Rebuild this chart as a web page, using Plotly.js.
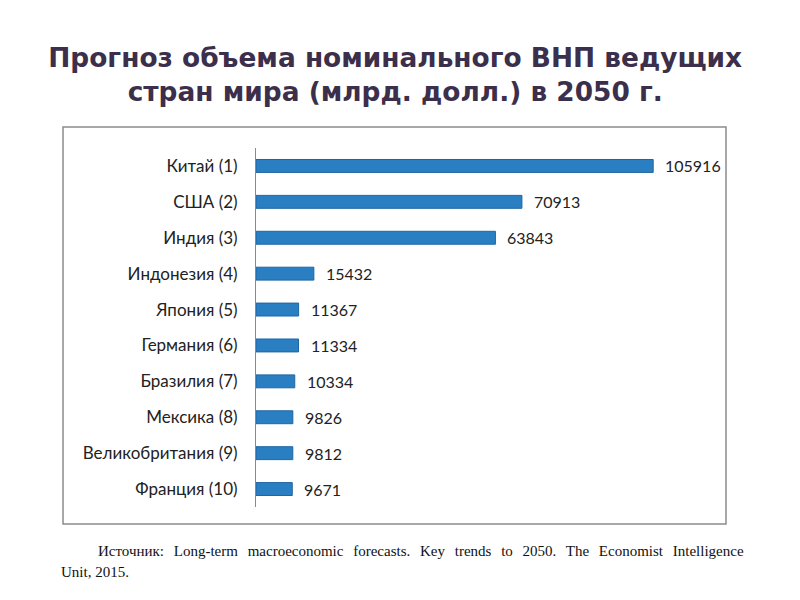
<!DOCTYPE html>
<html><head><meta charset="utf-8">
<script src="https://cdn.plot.ly/plotly-3.0.1.min.js"></script>
<style>body{margin:0;background:#fff}#c{width:800px;height:600px}</style>
</head><body><div id="c"></div>
<script>
const countries = ["Китай (1)","США (2)","Индия (3)","Индонезия (4)","Япония (5)","Германия (6)","Бразилия (7)","Мексика (8)","Великобритания (9)","Франция (10)"];
const gdp2050 = [105916,70913,63843,15432,11367,11334,10334,9826,9812,9671];
const titleText = "Прогноз объема номинального ВНП ведущих<br>стран мира (млрд. долл.) в 2050 г.";
const sourceLine1 = "Источник: Long-term macroeconomic forecasts. Key trends to 2050. The Economist Intelligence";
const sourceLine2 = "Unit, 2015.";

const cats = countries.slice().reverse();
const vals = gdp2050.slice().reverse();

const trace = {
  type: "bar", orientation: "h", x: vals, y: cats,
  width: 0.36,
  marker: {color: "#2a7fc3", line: {color: "#1f66a3", width: 1}},
  hoverinfo: "none"
};

const annotations = vals.map((v, i) => ({
  x: v, y: cats[i], xref: "x", yref: "y", text: String(v),
  showarrow: false, xanchor: "left", xshift: 10, yshift: 0,
  font: {family: "Lato, 'Liberation Sans', sans-serif", size: 16, color: "#222"}
}));
annotations.push({
  xref: "paper", yref: "paper", x: (96-256)/450, y: (507-551)/359, xanchor: "left", yanchor: "middle",
  text: '<span style="word-spacing:6px">' + sourceLine1 + '</span>', showarrow: false,
  font: {family: "'Liberation Serif', serif", size: 15, color: "#111"}
});
annotations.push({
  xref: "paper", yref: "paper", x: (59-256)/450, y: (507-572)/359, xanchor: "left", yanchor: "middle",
  text: sourceLine2, showarrow: false,
  font: {family: "'Liberation Serif', serif", size: 15, color: "#111"}
});

const layout = {
  width: 800, height: 600,
  margin: {l: 256, r: 94, t: 148, b: 93},
  paper_bgcolor: "#fff", plot_bgcolor: "#fff",
  title: {text: titleText, x: 0.494, xref: "container", xanchor: "center", y: 0.889, yref: "container", yanchor: "middle",
    font: {family: "'DejaVu Sans', sans-serif", size: 26.4, color: "#3b2f4c", weight: "bold"}},
  xaxis: {range: [0, 120000], visible: false, fixedrange: true},
  yaxis: {type: "category", showline: true, linecolor: "#8a8a8a", linewidth: 1,
    ticks: "", showgrid: false, zeroline: false, ticklabelstandoff: 14,
    tickfont: {family: "Lato, 'Liberation Sans', sans-serif", size: 17, color: "#222"}},
  showlegend: false,
  bargap: 0.64,
  annotations: annotations,
  shapes: [{type: "rect", xref: "paper", yref: "paper",
    x0: (63-256)/450, x1: (726-256)/450, y0: (507-524)/359, y1: (507-127)/359,
    line: {color: "#8c8c8c", width: 1.5}, fillcolor: "rgba(0,0,0,0)"}]
};

Plotly.newPlot("c", [trace], layout, {displayModeBar: false, staticPlot: true});
</script></body></html>
